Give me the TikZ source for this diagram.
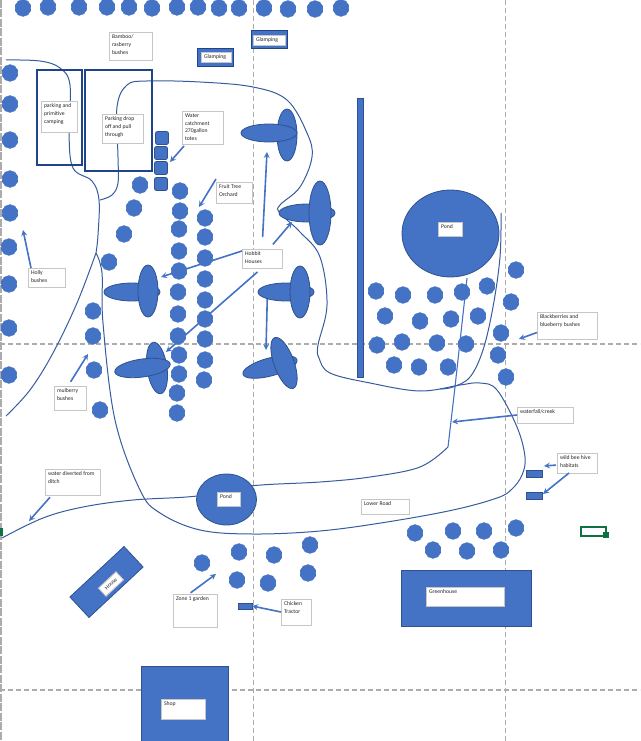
\documentclass[tikz,border=0pt]{standalone}
\usepackage{fontspec}
\setmainfont{Carlito}
\usepackage{xcolor}
\usetikzlibrary{arrows,positioning,shapes.geometric,shapes.symbols}
\definecolor{planblue}{HTML}{4472C4}
\definecolor{planedge}{HTML}{2F528F}
\definecolor{parkblue}{HTML}{1F4488}
\definecolor{selgreen}{HTML}{0F7041}
\tikzset{
    myptr/.style={
        ->,
        >=stealth,
        draw=planblue,
        line width=1.6pt
    },
    roadline/.style={
        draw=planedge!70!planblue,
        line width=1pt
    },
    creekline/.style={
        draw=planblue,
        line width=1.1pt
    },
    pagebreak/.style={
        draw=gray!65,
        line width=1.1pt,
        dash pattern=on 5pt off 3pt
    },
    solidshape/.style={
        draw=planedge,
        fill=planblue,
        line width=0.8pt,
        inner sep=0pt
    },
    bush/.style={
        cloud,
        cloud puffs=10,
        cloud puff arc=80,
        aspect=1,
        draw=planblue,
        fill=planblue,
        line width=0.3pt,
        inner sep=0pt,
        minimum width=16.5pt,
        minimum height=17pt
    },
    hut/.style={
        ellipse,
        solidshape
    },
    labelbox/.style={
        draw=gray!45,
        fill=white,
        line width=0.9pt,
        anchor=north west,
        outer sep=0pt,
        inner xsep=3pt,
        inner ysep=3pt,
        font=\fontsize{5.7}{7.6}\selectfont,
        text=black!85
    }
}

\begin{document}
\begin{tikzpicture}[x=1pt,y=-1pt]
        \useasboundingbox (0,0) rectangle (640,741);

        % draw page breaks and ruler edge
        \draw[draw=gray!65,line width=1.5pt,dash pattern=on 8pt off 1.5pt] (1,0) -- (1,741);
        \coordinate (breakTop1) at (253.5,0);
        \coordinate (breakBot1) at (253.5,741);
        \coordinate (breakTop2) at (505.5,0);
        \coordinate (breakBot2) at (505.5,741);
        \coordinate (breakLeft1) at (0,344);
        \coordinate (breakRight1) at (640,344);
        \coordinate (breakLeft2) at (0,690);
        \coordinate (breakRight2) at (640,690);
        \draw[pagebreak] (breakTop1) -- (breakBot1);
        \draw[pagebreak] (breakTop2) -- (breakBot2);
        \draw[pagebreak] (breakLeft1) -- (breakRight1);
        \draw[pagebreak] (breakLeft2) -- (breakRight2);

        % draw roads
        \draw[roadline] plot[smooth,tension=0.6] coordinates {(6,60) (40,61) (60,68) (70,85) (69,133) (73,168) (92,181) (99,200) (98,235) (96,253)};
        \draw[roadline] plot[smooth,tension=0.6] coordinates {(96,253) (77,303) (53,353) (30,390) (6,416)};
        \draw[roadline] plot[smooth,tension=0.6] coordinates {(96,253) (102,273) (103,323) (115,420) (140,490) (160,513) (200,530) (253,534) (320,531) (387,522) (453,510) (497,498) (512,489) (522,475) (525,457) (517,427) (497,390) (480,383) (460,385) (420,391) (370,383) (330,373) (319,358) (318,345) (327,305) (320,257) (300,232) (280,213) (280,205) (300,187) (312,157) (307,133) (287,100) (253,87) (200,82) (147,81) (127,85) (117,107) (118,157) (118,183) (112,195) (100,200)};
        \draw[roadline] plot[smooth,tension=0.6] coordinates {(501,213) (500,257) (493,307) (483,350) (470,377) (453,387) (440,389)};
        \draw[creekline] (467,278) -- (455,387) -- (448,447);
        \draw[roadline] plot[smooth,tension=0.6] coordinates {(448,447) (420,467) (370,477) (320,482) (250,486) (197,496) (133,500) (83,507) (43,518) (2,538)};

        % draw ponds, buildings and the wall
        \node[hut,minimum width=97pt,minimum height=87pt] (bigpond) at (450.5,233.5) {};
        \node[hut,minimum width=60pt,minimum height=51pt] (smallpond) at (226.5,499.5) {};
        \draw[solidshape] (357,98) rectangle (363,377);
        \node[solidshape,draw=parkblue,line width=1pt,minimum width=36pt,minimum height=18pt] (glampA) at (215,58) {};
        \node[solidshape,draw=parkblue,line width=1pt,minimum width=36pt,minimum height=18pt] (glampB) at (269,40) {};
        \node[solidshape,minimum width=130pt,minimum height=56pt] (greenhouse) at (466,598) {};
        \node[solidshape,minimum width=87pt,minimum height=76pt,anchor=north west] (shop) at (141,666) {};
        \node[solidshape,minimum width=74pt,minimum height=28pt,rotate=43] (house) at (106.5,582) {};
        \node[solidshape,minimum width=16pt,minimum height=7pt] (hiveA) at (534,473.5) {};
        \node[solidshape,minimum width=16pt,minimum height=7pt] (hiveB) at (534,495.5) {};
        \node[solidshape,minimum width=14pt,minimum height=6pt] (tractor) at (245,606) {};

        % draw parking areas
        \draw[draw=parkblue,line width=1.8pt] (37,70) rectangle (82,165);
        \draw[draw=parkblue,line width=1.8pt] (85,70) rectangle (152,171);

        % draw water totes
        \foreach \x/\y [count=\i] in {162/138, 161/153, 161/168, 161/184}
        {
            \node[solidshape,rounded corners=2pt,minimum size=13pt] (tote\i) at (\x,\y) {};
        }

        % draw label boxes
        \foreach \name/\x/\y/\w/\h/\txt in {
            bamboo/109/32/43/28/{Bamboo/\\rasberry\\bushes},
            lblGlampA/201/52/30/10/{Glamping},
            lblGlampB/253/35/32/8/{Glamping},
            primitive/41/101/36/31/{parking and\\primitive\\camping},
            dropoff/102/114/41/29/{Parking drop\\off and pull\\through},
            catchment/182/111/41/33/{Water\\catchment\\270gallon\\totes},
            orchard/216/182/36/21/{Fruit Tree\\Orchard},
            hobbit/242/249/40/19/{Hobbit\\Houses},
            holly/28/268/37/19/{Holly\\bushes},
            mulberry/54/386/32/24/{mulberry\\bushes},
            ditch/45/469/55/26/{water diverted from\\ditch},
            berries/537/312/60/27/{Blackberries and\\blueberry bushes},
            creek/517/407/56/16/{waterfall/creek},
            beehive/557/453/40/20/{wild bee hive\\habitats},
            lowerroad/361/499/48/15/{Lower Road},
            zone/173/594/44/33/{Zone 1 garden},
            chicken/281/599/30/26/{Chicken\\Tractor},
            lblBigPond/438/222/24/14/{Pond},
            lblSmallPond/217/492/23/14/{Pond},
            lblGreenhouse/426/587/78/19/{Greenhouse},
            lblShop/161/699/44/20/{Shop}
        }
        {
            \node[labelbox] (\name) at (\x,\y) {\parbox[t][\dimexpr\h pt-6pt\relax][t]{\dimexpr\w pt-6pt\relax}{\raggedright\txt}};
        }
        \node[labelbox,anchor=center,rotate=43,minimum width=24pt,minimum height=11pt,inner xsep=1pt,inner ysep=1pt] (lblHouse) at (111,584) {House};

        % draw arrows
        \coordinate (tipHolly) at (23,230);
        \coordinate (tipMulberry) at (88,354);
        \coordinate (tipDitch) at (29,521);
        \coordinate (tipTotes) at (170,162);
        \coordinate (tipOrchard) at (199,207);
        \coordinate (tipHutA) at (267,152);
        \coordinate (tipHutB) at (292,222);
        \coordinate (tipHutC) at (161,277);
        \coordinate (tipHutD) at (166,352);
        \coordinate (tipHutE) at (266,350);
        \coordinate (tipBerries) at (519,339);
        \coordinate (tipCreek) at (452,422);
        \coordinate (tipHiveA) at (544,466);
        \coordinate (tipHiveB) at (543,494);
        \coordinate (tipZone) at (216,574);
        \coordinate (tipTractor) at (252,606);
        \draw[myptr] ([xshift=3pt]holly.north west) -- (tipHolly);
        \draw[myptr,shorten <=5pt] ([xshift=14pt]mulberry.north west) -- (tipMulberry);
        \draw[myptr,shorten <=3pt] ([xshift=7pt]ditch.south west) -- (tipDitch);
        \draw[myptr] ([xshift=2pt,yshift=-2pt]catchment.south west) -- (tipTotes);
        \draw[myptr] ([yshift=3pt]orchard.north west) -- (tipOrchard);
        \draw[myptr,shorten <=12pt] (hobbit.north) -- (tipHutA);
        \draw[myptr,shorten <=6pt] ([xshift=7pt]hobbit.north) -- (tipHutB);
        \draw[myptr] ([yshift=2pt]hobbit.north west) ++(0,4) -- (tipHutC);
        \draw[myptr,shorten <=6pt] (hobbit.south) -- (tipHutD);
        \draw[myptr,shorten <=30pt] ([xshift=6pt]hobbit.south) -- (tipHutE);
        \draw[myptr] ([yshift=-7pt]berries.west) -- (tipBerries);
        \draw[myptr] (creek.west) -- (tipCreek);
        \draw[myptr,shorten <=1pt] ([yshift=-2pt]beehive.west) -- (tipHiveA);
        \draw[myptr] ([xshift=-8pt]beehive.south) -- (tipHiveB);
        \draw[myptr,shorten <=2pt] ([xshift=16pt]zone.north west) -- (tipZone);
        \draw[myptr] (chicken.west) -- (tipTractor);

        % draw bushes
        \foreach \x/\y [count=\i] in {23/8, 48/7, 79/7, 107/7, 129/7, 152/8, 177/7, 198/7, 219/8, 239/8, 264/8, 288/9, 315/9, 341/8}
        {
            \node[bush] (top\i) at (\x,\y) {};
        }
        \foreach \x/\y [count=\i] in {10/73, 10/104, 10/140, 10/179, 10/213, 9/247, 9/284, 9/328, 9/375}
        {
            \node[bush] (edge\i) at (\x,\y) {};
        }
        \foreach \x/\y [count=\i] in {140/185, 134/208, 124/234, 109/262, 93/311, 93/336, 94/370, 100/410}
        {
            \node[bush] (mul\i) at (\x,\y) {};
        }
        \foreach \x/\y [count=\i] in {180/191, 180/211, 179/229, 179/251, 179/271, 178/292, 178/314, 178/336, 179/355, 179/374, 177/393, 177/413}
        {
            \node[bush] (fruitA\i) at (\x,\y) {};
        }
        \foreach \x/\y [count=\i] in {205/218, 205/237, 205/258, 205/279, 205/300, 205/319, 205/339, 205/360, 204/380}
        {
            \node[bush] (fruitB\i) at (\x,\y) {};
        }
        \foreach \x/\y [count=\i] in {376/291, 403/295, 435/295, 462/292, 487/286, 516/270, 511/302, 385/316, 420/321, 451/319, 478/316, 501/333, 377/345, 402/342, 437/343, 466/344, 498/355, 394/365, 419/367, 448/367, 506/377}
        {
            \node[bush] (berry\i) at (\x,\y) {};
        }
        \foreach \x/\y [count=\i] in {202/563, 239/552, 274/555, 310/545, 237/580, 268/583, 308/573}
        {
            \node[bush] (garden\i) at (\x,\y) {};
        }
        \foreach \x/\y [count=\i] in {415/533, 453/531, 484/531, 516/528, 433/550, 467/551, 501/550}
        {
            \node[bush] (road\i) at (\x,\y) {};
        }

        % draw hobbit houses
        \node[hut,minimum width=20pt,minimum height=52pt] (hutAv) at (287,135) {};
        \node[hut,minimum width=56pt,minimum height=18pt] (hutAh) at (269,133) {};
        \node[hut,minimum width=56pt,minimum height=18pt] (hutBh) at (307,213) {};
        \node[hut,minimum width=22pt,minimum height=64pt] (hutBv) at (320,213) {};
        \node[hut,minimum width=56pt,minimum height=18pt] (hutCh) at (132,292) {};
        \node[hut,minimum width=20pt,minimum height=52pt] (hutCv) at (148,291) {};
        \node[hut,minimum width=56pt,minimum height=18pt] (hutDh) at (286,292) {};
        \node[hut,minimum width=20pt,minimum height=52pt] (hutDv) at (300,292) {};
        \node[hut,minimum width=20pt,minimum height=52pt,rotate=8] (hutEv) at (157,368) {};
        \node[hut,minimum width=56pt,minimum height=18pt,rotate=8] (hutEh) at (142.5,368) {};
        \node[hut,minimum width=56pt,minimum height=18pt,rotate=15] (hutFh) at (270,367) {};
        \node[hut,minimum width=20pt,minimum height=54pt,rotate=20] (hutFv) at (284,363) {};

        % draw selected cell
        \draw[draw=selgreen,line width=1.5pt] (581,527) rectangle (606,536);
        \node[fill=selgreen,inner sep=0pt,minimum size=6pt] (handle) at (606,535) {};
        \node[fill=selgreen,inner sep=0pt,minimum width=2.5pt,minimum height=8pt,anchor=west] (rowmark) at (0,532) {};
    \end{tikzpicture}
\end{document}
